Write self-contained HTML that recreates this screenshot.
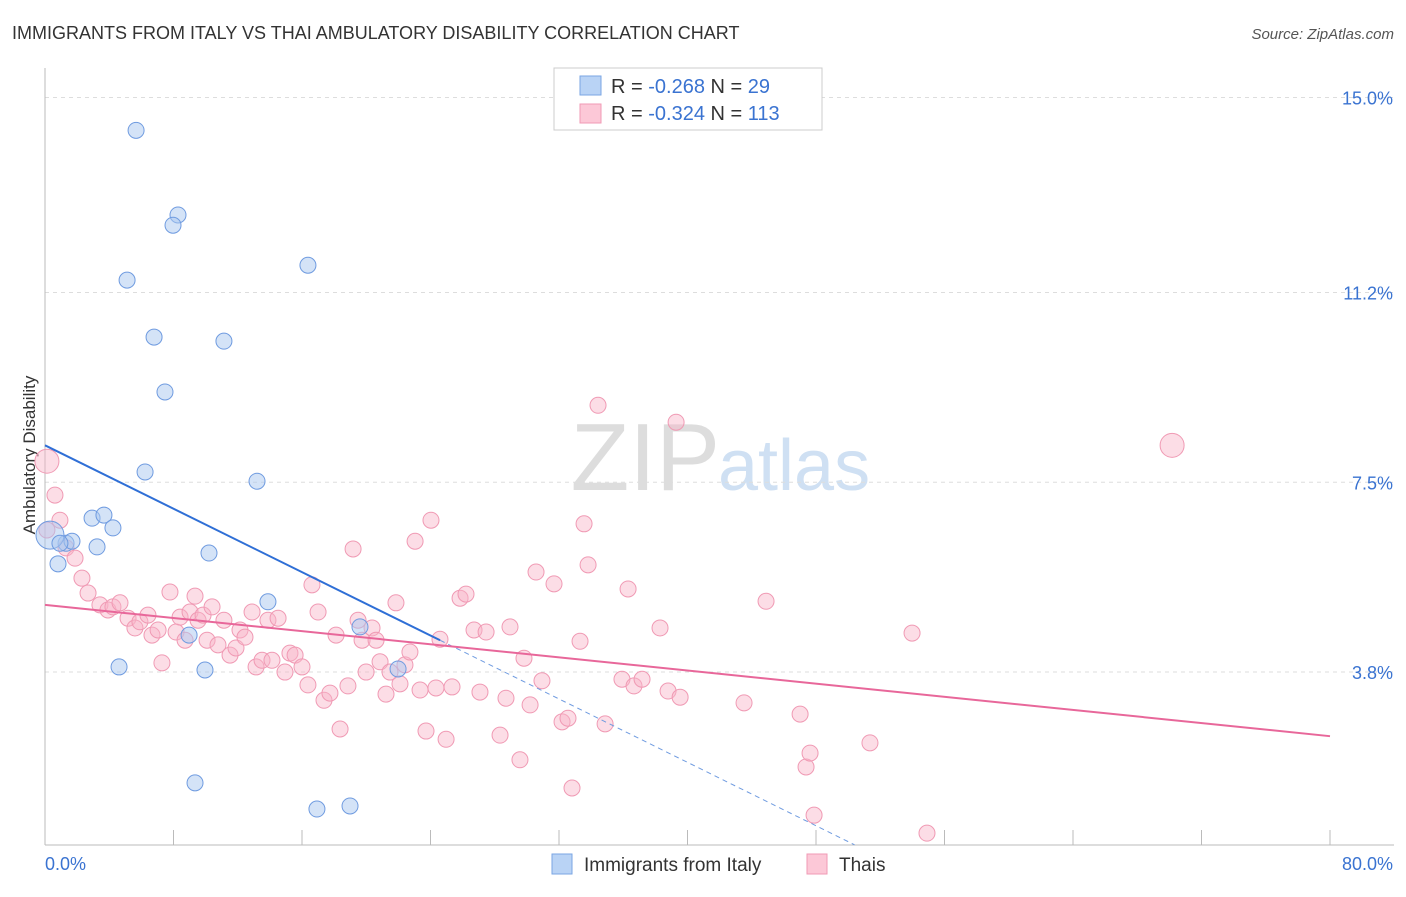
<!DOCTYPE html>
<html><head><meta charset="utf-8"><style>
body{margin:0;background:#fff;font-family:"Liberation Sans",sans-serif}
svg text{font-family:"Liberation Sans",sans-serif}
</style></head><body>
<svg id="c" width="1406" height="892">
<text x="12" y="39" font-size="18" fill="#333">IMMIGRANTS FROM ITALY VS THAI AMBULATORY DISABILITY CORRELATION CHART</text>
<text x="1394" y="39" font-size="15" fill="#555" text-anchor="end" font-style="italic">Source: ZipAtlas.com</text>
<text x="720" y="490" font-size="96" fill="#ddd" text-anchor="end" font-family="Liberation Serif">ZIP</text>
<text x="718" y="490" font-size="72" fill="#cfe0f3">atlas</text>
<text x="35" y="455" font-size="17" fill="#333" text-anchor="middle" transform="rotate(-90 35 455)">Ambulatory Disability</text>
<g id="grid"></g><g id="pts"></g><g id="lines"></g>
<g>
<rect x="554" y="68" width="268" height="62" fill="#fff" stroke="#ccc"/>
<rect x="580" y="76" width="21" height="19" fill="#b9d3f5" stroke="#7aa6e3"/>
<rect x="580" y="104" width="21" height="19" fill="#fcc8d7" stroke="#f09ab4"/>
<text x="611" y="93" font-size="20" fill="#333">R = <tspan fill="#3a73d1">-0.268</tspan>   N =  <tspan fill="#3a73d1">29</tspan></text>
<text x="611" y="120" font-size="20" fill="#333">R = <tspan fill="#3a73d1">-0.324</tspan>   N = <tspan fill="#3a73d1">113</tspan></text>
</g>
<g>
<rect x="552" y="854" width="20" height="20" fill="#b9d3f5" stroke="#7aa6e3"/>
<text x="584" y="871" font-size="19" fill="#333">Immigrants from Italy</text>
<rect x="807" y="854" width="20" height="20" fill="#fcc8d7" stroke="#f09ab4"/>
<text x="839" y="871" font-size="19" fill="#333">Thais</text>
</g>
</svg>
<script>
const yTicks=[15.0,11.2,7.5,3.8];
const yTickLabels=["15.0%","11.2%","7.5%","3.8%"];
const xLabels=["0.0%","80.0%"];
const italyX=[5.67,8.28,7.97,5.11,16.37,6.79,11.14,7.47,6.23,13.20,2.93,3.67,4.23,1.31,1.68,3.24,10.21,0.81,0.31,13.88,8.97,19.61,4.61,9.96,21.98,9.34,16.93,18.99,0.93];
const italyY=[14.36,12.71,12.51,11.44,11.73,10.33,10.25,9.26,7.70,7.52,6.80,6.86,6.61,6.31,6.35,6.24,6.12,5.91,6.47,5.17,4.52,4.68,3.90,3.84,3.86,1.64,1.13,1.19,6.31];
const thaiX=[0.12,0.62,0.93,1.31,1.87,2.30,2.68,3.42,3.92,4.23,4.67,5.17,5.60,5.91,6.41,6.66,7.04,7.28,7.78,8.16,8.41,8.72,9.03,9.34,9.53,9.84,10.09,10.40,10.77,11.14,11.52,11.89,12.14,12.45,12.89,13.14,13.51,13.88,14.13,14.51,14.94,15.25,15.57,16.00,16.37,16.62,17.00,17.37,17.74,18.12,18.37,18.86,19.18,19.49,19.74,19.99,20.36,20.61,20.86,21.23,21.48,21.85,22.10,22.41,22.72,23.04,23.35,23.72,24.03,24.34,24.59,24.97,25.34,25.84,26.21,26.71,27.08,27.46,28.33,28.70,28.95,29.57,29.82,30.20,30.57,30.94,31.69,32.19,32.56,32.81,33.31,33.56,33.81,34.43,34.87,35.92,36.30,36.67,37.17,38.29,38.79,39.29,39.54,43.52,44.89,47.01,47.38,47.63,47.88,51.36,53.98,54.91,70.17,0.12];
const thaiY=[7.91,7.25,6.76,6.22,6.02,5.63,5.34,5.11,5.01,5.07,5.15,4.85,4.66,4.78,4.91,4.52,4.62,3.98,5.36,4.58,4.87,4.42,4.97,5.28,4.81,4.91,4.42,5.07,4.33,4.81,4.13,4.27,4.62,4.48,4.97,3.90,4.03,4.81,4.03,4.85,3.80,4.17,4.13,3.90,3.55,5.50,4.97,3.25,3.39,4.52,2.69,3.53,6.20,4.81,4.42,3.80,4.66,4.42,4.00,3.37,3.80,5.15,3.57,3.94,4.19,6.35,3.45,2.65,6.76,3.49,4.44,2.49,3.51,5.24,5.32,4.62,3.41,4.58,2.57,3.29,4.68,2.09,4.07,3.16,5.75,3.63,5.52,2.83,2.90,1.54,4.40,6.69,5.89,9.00,2.79,3.66,5.42,3.53,3.66,4.66,3.43,8.67,3.31,3.20,5.18,2.98,1.95,2.22,1.01,2.42,4.56,0.66,8.22,6.57];
const italyBig=[18];const thaiBig=[0,112];
const italyFit=[8.22,-0.1545];const italyFitEnd=[24.6,50.4];
const thaiFit=[5.11,-0.032];
const X=v=>45+v*16.0625, Y=v=>867-v*51.3;
const NS='http://www.w3.org/2000/svg';
function mk(t,a,p){const e=document.createElementNS(NS,t);for(const k in a)e.setAttribute(k,a[k]);p.appendChild(e);return e;}
const grid=document.getElementById('grid'),svg=document.getElementById('c');
yTicks.forEach((v,i)=>{
 const l=mk('line',{x1:45,x2:1394,y1:Y(v),y2:Y(v),stroke:'#ddd','stroke-dasharray':'4,4'},grid);
 
 
 const t=mk('text',{x:1393,y:Y(v)+7,'font-size':18,fill:'#3a73d1','text-anchor':'end'},grid);t.textContent=yTickLabels[i];
 
 
});
const ax=mk('line',{x1:45,x2:1394,y1:845,y2:845,stroke:'#bbb'},grid);


const ay=mk('line',{x1:45,x2:45,y1:68,y2:845,stroke:'#bbb'},grid);


for(let i=0;i<=10;i++){const tk=mk('line',{x1:X(i*8),x2:X(i*8),y1:830,y2:845,stroke:'#bbb'},grid);
 
 }
[[0,'start',45],[80,'end',1393]].forEach((d,i)=>{const t=mk('text',{x:d[2],y:870,'font-size':18,fill:'#3a73d1','text-anchor':d[1]},grid);t.textContent=xLabels[i];
 
 });
const pts=document.getElementById('pts');
thaiX.forEach((v,i)=>{const c=mk('circle',{cx:X(v),cy:Y(thaiY[i]),r:thaiBig.includes(i)?12:8,fill:'rgba(248,180,200,0.45)',stroke:'#f09ab4','stroke-width':1},pts);
 
 });
italyX.forEach((v,i)=>{const c=mk('circle',{cx:X(v),cy:Y(italyY[i]),r:italyBig.includes(i)?14:8,fill:'rgba(170,200,240,0.5)',stroke:'#6f9be0','stroke-width':1},pts);
 
 });
const lines=document.getElementById('lines');
const f=(p,x)=>p[0]+p[1]*x;
let l1=mk('line',{x1:X(0),y1:Y(f(italyFit,0)),x2:X(italyFitEnd[0]),y2:Y(f(italyFit,italyFitEnd[0])),stroke:'#2f6fd6','stroke-width':2},lines);


let l2=mk('line',{x1:X(italyFitEnd[0]),y1:Y(f(italyFit,italyFitEnd[0])),x2:X(italyFitEnd[1]),y2:Y(f(italyFit,italyFitEnd[1])),stroke:'#6f9be0','stroke-width':1,'stroke-dasharray':'5,4'},lines);


let l3=mk('line',{x1:X(0),y1:Y(f(thaiFit,0)),x2:X(80),y2:Y(f(thaiFit,80)),stroke:'#e8679a','stroke-width':2},lines);


</script>
</body></html>
